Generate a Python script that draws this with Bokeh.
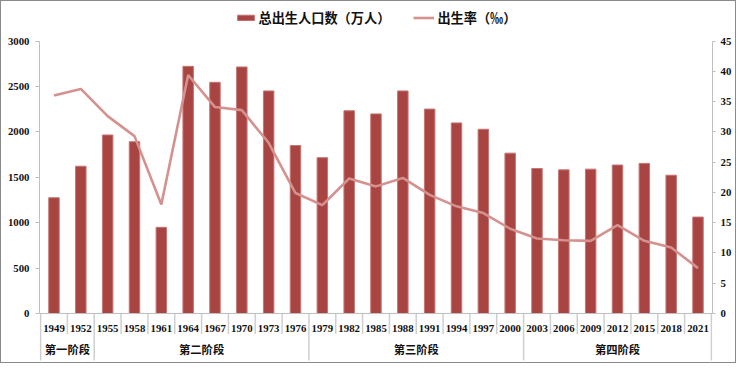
from bokeh.plotting import figure
from bokeh.models import (Range1d, LinearAxis, FixedTicker, ColumnDataSource,
                          Legend, LegendItem, Span)
from bokeh.core.properties import value
from bokeh.embed import file_html
from bokeh.resources import INLINE

# ---------------- data ----------------
years = ["1949", "1952", "1955", "1958", "1961", "1964", "1967", "1970", "1973",
         "1976", "1979", "1982", "1985", "1988", "1991", "1994", "1997", "2000",
         "2003", "2006", "2009", "2012", "2015", "2018", "2021"]
births = [1275, 1622, 1966, 1892, 949, 2722, 2546, 2715, 2451, 1850, 1716, 2233,
          2198, 2451, 2251, 2099, 2029, 1766, 1597, 1582, 1590, 1635, 1653, 1523, 1062]
rates = [36.0, 37.1, 32.6, 29.3, 18.0, 39.4, 34.1, 33.6, 28.2, 19.9, 17.9, 22.3,
         21.0, 22.4, 19.6, 17.7, 16.6, 14.0, 12.4, 12.1, 12.0, 14.6, 12.0, 10.9, 7.5]
stages = ["第一阶段", "第二阶段", "第三阶段", "第四阶段"]
stage_sizes = [2, 8, 8, 7]
left_ticks = [0, 500, 1000, 1500, 2000, 2500, 3000]
right_ticks = [0, 5, 10, 15, 20, 25, 30, 35, 40, 45]
bar_label = "总出生人口数（万人）"
line_label = "出生率（‰）"

# ---------------- layout ----------------
W, H = 736, 363
TOP_PX, ZERO_PX = 39.6, 312.0          # pixel rows of 3000 and 0
LMAX, RMAX = 3000, 45
upp = LMAX / (ZERO_PX - TOP_PX)         # data units per pixel (left axis)
y_max = LMAX + TOP_PX * upp
y_min = -(H - ZERO_PX) * upp
N = len(years)
PADX = 0.04

p = figure(width=W, height=H, output_backend="svg", toolbar_location=None,
           x_axis_location=None,
           x_range=Range1d(-PADX, N + PADX), y_range=Range1d(y_min, y_max),
           min_border_left=38, min_border_right=25,
           min_border_top=0, min_border_bottom=0)
p.styles = {"border": "1px solid #8a8a8a"}
p.grid.visible = False
p.outline_line_color = None
p.background_fill_color = "white"
p.border_fill_color = "white"

axis_col = "#bfbfbf"
num_font = "Liberation Serif"
cjk_font = "Noto Sans CJK SC"

# left axis
la = p.yaxis[0]
la.ticker = FixedTicker(ticks=left_ticks)
la.bounds = (0, LMAX)
la.minor_tick_line_color = None
la.major_tick_out = 4
la.major_tick_in = 0
la.major_label_standoff = 6
la.axis_line_color = axis_col
la.major_tick_line_color = axis_col
la.major_label_text_font = num_font
la.major_label_text_font_style = "bold"
la.major_label_text_font_size = "10.8px"
la.major_label_text_color = "#111111"

# right axis
p.extra_y_ranges = {"rate": Range1d(y_min * RMAX / LMAX, y_max * RMAX / LMAX)}
ra = LinearAxis(y_range_name="rate", ticker=FixedTicker(ticks=right_ticks),
                bounds=(0, RMAX))
ra.minor_tick_line_color = None
ra.major_tick_out = 3
ra.major_tick_in = 0
ra.major_label_standoff = 5
ra.axis_line_color = axis_col
ra.major_tick_line_color = axis_col
ra.major_label_text_font = num_font
ra.major_label_text_font_style = "bold"
ra.major_label_text_font_size = "10.8px"
ra.major_label_text_color = "#111111"
p.add_layout(ra, "right")

xc = [i + 0.5 for i in range(N)]
src = ColumnDataSource(dict(x=xc, births=births, rates=rates, years=years))

bars = p.vbar(x="x", top="births", width=0.39, source=src,
              fill_color="#A84441", line_color="#C47674", line_width=1)
line = p.line(x="x", y="rates", y_range_name="rate", source=src,
              line_color="#D4918E", line_width=2.6)

# baseline
p.add_layout(Span(location=0, dimension="width", line_color=axis_col, line_width=1))

# category separators
group_bounds = [0]
for s in stage_sizes:
    group_bounds.append(group_bounds[-1] + s)
year_bounds = [b for b in range(N + 1) if b not in group_bounds]
p.segment(x0=year_bounds, y0=[0] * len(year_bounds), x1=year_bounds,
          y1=[-20.4 * upp] * len(year_bounds), line_color="#cfcfcf", line_width=1.5)
p.segment(x0=group_bounds, y0=[0] * len(group_bounds), x1=group_bounds,
          y1=[-47 * upp] * len(group_bounds), line_color="#cfcfcf", line_width=1.5)

# year labels
p.text(x=xc, y=[0] * N, text=years, y_offset=15.1, text_align="center",
       text_baseline="middle", text_font=value(num_font), text_font_style="bold",
       text_font_size="10.8px", text_color="#111111")

# stage labels
stage_x = [(group_bounds[i] + group_bounds[i + 1]) / 2 for i in range(len(stages))]
p.text(x=stage_x, y=[0] * len(stages), text=stages, y_offset=35.7,
       text_align="center", text_baseline="middle", text_font=value(cjk_font),
       text_font_style="bold", text_font_size="11.3px", text_color="#111111")

legend = Legend(items=[LegendItem(label=bar_label, renderers=[bars]),
                       LegendItem(label=line_label, renderers=[line])],
                location="top_center", orientation="horizontal", margin=7,
                padding=0, spacing=23, glyph_width=21, glyph_height=7,
                label_standoff=3, label_text_font=cjk_font,
                label_text_font_style="bold", label_text_font_size="13.2px",
                label_text_color="#111111", border_line_color=None,
                background_fill_alpha=0)
p.add_layout(legend)

open("out.html", "w").write(file_html(p, INLINE))
